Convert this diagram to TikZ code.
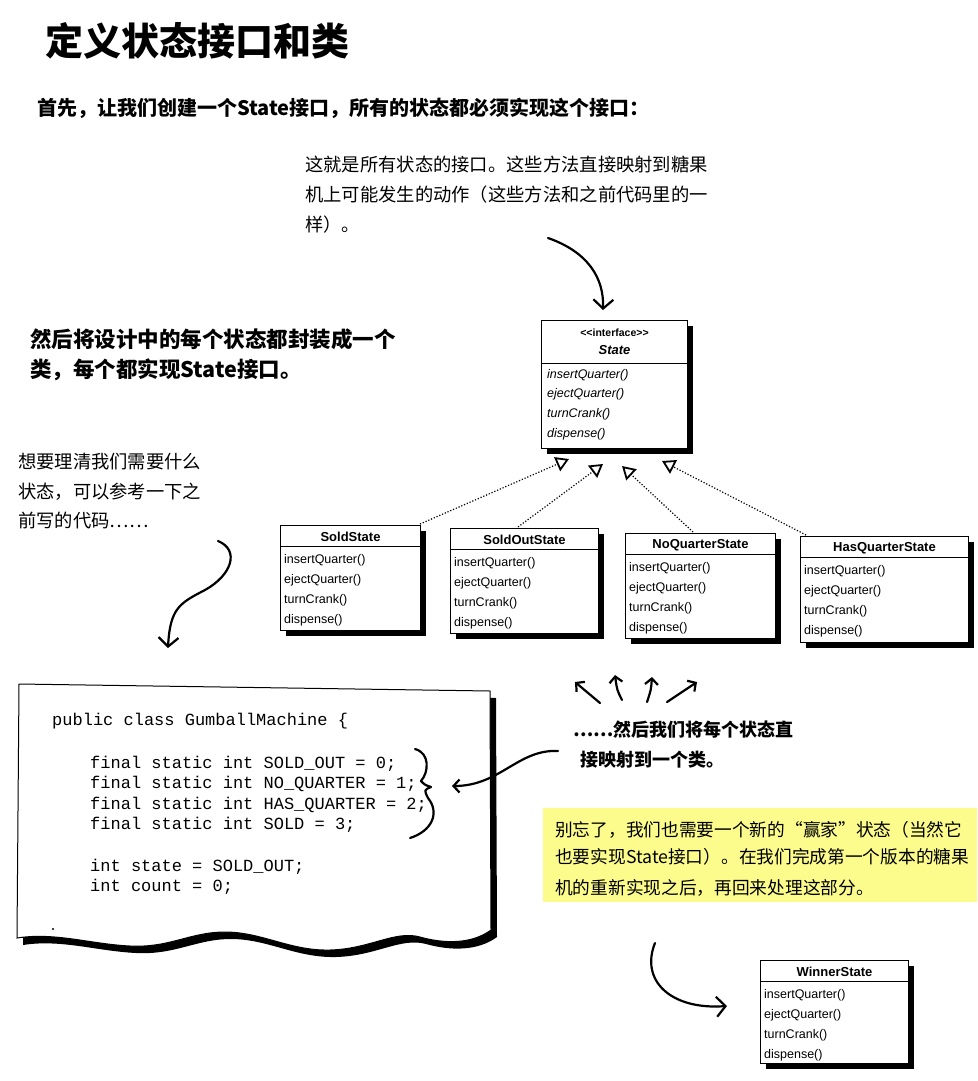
\documentclass[tikz,border=0pt]{standalone}
\usepackage{fontspec}
\setmainfont{Liberation Sans}
\newfontfamily\cjk{Noto Sans CJK SC}
\newfontfamily\codefont{Liberation Mono}
\usetikzlibrary{arrows.meta,calc,shadows}
\definecolor{notebg}{RGB}{252,252,140}

% UML class box: name, top-left corner, width, height, title, operations
\newcommand{\umlclass}[6]{%
  \node[classbox, minimum width=#3, minimum height=#4] (#1) at (#2) {};
  \node[classtitle] (#1-title) at ($(#1.north)+(0,12)$) {#5};
  \draw[classrule] ($(#1.north west)+(0,21)$) -- ($(#1.north east)+(0,21)$);
  \foreach \op [count=\k] in {#6}
    \node[classop] (#1-op\k) at ($(#1.north west)+(4,{18.5+20*\k})$) {\op};
}

% outline of the torn code sheet
\newcommand{\paperoutline}{%
  (19,684) -- (490,691) -- (491,930)
  .. controls (472,944) and (445,944) .. (420,937)
  .. controls (395,930) and (370,949) .. (330,950)
  .. controls (290,951) and (262,932) .. (225,932)
  .. controls (190,932) and (170,948) .. (130,946)
  .. controls (90,944) and (55,932) .. (17,938) -- cycle}

\begin{document}
\begin{tikzpicture}[x=1pt,y=-1pt,
  titletext/.style={font=\cjk\bfseries\fontsize{38}{38}\selectfont, inner sep=0pt, anchor=base west},
  leadtext/.style={font=\cjk\bfseries\fontsize{20}{20}\selectfont, inner sep=0pt, anchor=base west},
  note/.style={font=\cjk\fontsize{18.3}{18.3}\selectfont, inner sep=0pt, anchor=base west},
  boldnote/.style={font=\cjk\bfseries\fontsize{21.5}{21.5}\selectfont, inner sep=0pt, anchor=base west},
  mapnote/.style={font=\cjk\bfseries\fontsize{18}{18}\selectfont, inner sep=0pt, anchor=base west},
  codeline/.style={font=\codefont\fontsize{17}{17}\selectfont, inner sep=0pt, anchor=base west},
  classbox/.style={draw, line width=1pt, fill=white, anchor=north west, inner sep=0pt,
    drop shadow={shadow xshift=5pt, shadow yshift=-5pt, fill=black, opacity=1}},
  classtitle/.style={font=\bfseries\fontsize{13}{13}\selectfont, inner sep=0pt},
  classop/.style={font=\fontsize{12.5}{12.5}\selectfont, inner sep=0pt, anchor=base west},
  classrule/.style={line width=0.8pt},
  realize/.style={line width=1.2pt, dash pattern=on 1.2pt off 1.8pt,
    -{Triangle[open, length=13pt, width=15pt, line width=1.8pt]}},
  hand/.style={line width=2.2pt, line cap=round, line join=round},
  barb/.style={-{Straight Barb[length=9pt, width=20pt, line width=2.2pt]}},
  smallbarb/.style={-{Straight Barb[length=6pt, width=13pt, line width=2.2pt]}},
  codepaper/.style={fill=white, draw=black, line width=1pt}
]
\fill[white] (0,0) rectangle (977,1081);
\useasboundingbox (0,0) rectangle (977,1081);

% headings
\node[titletext] (title) at (45,56) {定义状态接口和类};
\node[leadtext] (lead) at (37,115) {首先，让我们创建一个State接口，所有的状态都必须实现这个接口：};

% note on the interface
\node[note] (ifnote1) at (305,171) {这就是所有状态的接口。这些方法直接映射到糖果};
\node[note] (ifnote2) at (305,201) {机上可能发生的动作（这些方法和之前代码里的一};
\node[note] (ifnote3) at (305,231) {样）。};
\coordinate (ifarrowstart) at (548,238);
\coordinate (ifarrowtip) at (603,310);
\draw[hand, barb] (ifarrowstart) .. controls (588,252) and (604,278) .. (ifarrowtip);

% note on the classes
\node[boldnote] (clsnote1) at (30,347) {然后将设计中的每个状态都封装成一个};
\node[boldnote] (clsnote2) at (30,377) {类，每个都实现State接口。};

% note on the old code
\node[note] (oldnote1) at (18,468) {想要理清我们需要什么};
\node[note] (oldnote2) at (18,498) {状态，可以参考一下之};
\node[note] (oldnote3) at (18,527) {前写的代码……};
\coordinate (oldarrowstart) at (218,541);
\coordinate (oldarrowtip) at (168,648);
\draw[hand, barb] (oldarrowstart) .. controls (240,550) and (232,575) .. (205,590)
  .. controls (180,603) and (170,608) .. (oldarrowtip);

% the State interface
\node[classbox, minimum width=146, minimum height=128] (iface) at (541,320) {};
\node[classtitle, font=\bfseries\fontsize{10.5}{10.5}\selectfont] (iface-stereo) at ($(iface.north)+(0,13)$) {{<}{<}interface{>}{>}};
\node[classtitle, font=\bfseries\itshape\fontsize{13}{13}\selectfont] (iface-title) at ($(iface.north)+(0,30)$) {State};
\draw[classrule] ($(iface.north west)+(0,43)$) -- ($(iface.north east)+(0,43)$);
\foreach \op [count=\k] in {insertQuarter(),ejectQuarter(),turnCrank(),dispense()}
  \node[classop, font=\itshape\fontsize{12.5}{12.5}\selectfont] (iface-op\k) at ($(iface.north west)+(6,{38.5+19.7*\k})$) {\op};

% concrete state classes
\umlclass{sold}{280,525}{140}{105}{SoldState}{insertQuarter(),ejectQuarter(),turnCrank(),dispense()}
\umlclass{soldout}{450,528}{148}{105}{SoldOutState}{insertQuarter(),ejectQuarter(),turnCrank(),dispense()}
\umlclass{noquarter}{625,533}{150}{105}{NoQuarterState}{insertQuarter(),ejectQuarter(),turnCrank(),dispense()}
\umlclass{hasquarter}{800,536}{168}{106}{HasQuarterState}{insertQuarter(),ejectQuarter(),turnCrank(),dispense()}

% realization links to the interface
\coordinate (tip1) at (569,459);
\coordinate (tip2) at (603,464);
\coordinate (tip3) at (622,466);
\coordinate (tip4) at (662,461);
\draw[realize] ($(sold.north east)+(-1,-1)$) -- (tip1);
\draw[realize] ($(soldout.north west)+(68,-1)$) -- (tip2);
\draw[realize] ($(noquarter.north west)+(68,-1)$) -- (tip3);
\draw[realize] ($(hasquarter.north west)+(6,-1)$) -- (tip4);

% old code sheet
\fill[black, shift={(6,7)}] \paperoutline;
\draw[codepaper] \paperoutline;
\node[codeline] (code1) at (52,725) {public class GumballMachine \{};
\node[codeline] (code2) at (90,768) {final static int SOLD\_OUT = 0;};
\node[codeline] (code3) at (90,788.5) {final static int NO\_QUARTER = 1;};
\node[codeline] (code4) at (90,809) {final static int HAS\_QUARTER = 2;};
\node[codeline] (code5) at (90,829.5) {final static int SOLD = 3;};
\node[codeline] (code6) at (90,871) {int state = SOLD\_OUT;};
\node[codeline] (code7) at (90,891) {int count = 0;};
\fill (53,929) circle (1.2);

% brace over the constants
\draw[hand] (415,749) .. controls (430,753) and (429,772) .. (421,781)
  .. controls (425,785) .. (431,787)
  .. controls (424,790) .. (428,798)
  .. controls (440,813) and (432,831) .. (410,838);

% the classes point back at the constants
\draw[hand, smallbarb] (600,703) -- (575,682);
\draw[hand, smallbarb] (622,700) .. controls (617,690) .. (615,675);
\draw[hand, smallbarb] (647,702) .. controls (651,690) .. (652,677);
\draw[hand, smallbarb] (667,702) -- (697,682);
\node[mapnote] (mapnote1) at (573,736) {……然后我们将每个状态直};
\node[mapnote] (mapnote2) at (580,766) {接映射到一个类。};
\coordinate (maparrowstart) at (558,751);
\coordinate (maparrowtip) at (452,786);
\draw[hand, smallbarb] (maparrowstart) .. controls (518,749) and (500,786) .. (maparrowtip);

% reminder about the winner state
\node[fill=notebg, minimum width=434, minimum height=94, anchor=north west, inner sep=0pt] (winnote) at (543,808) {};
\node[note, font=\cjk\fontsize{17.7}{17.7}\selectfont] (winnote1) at (555,836) {别忘了，我们也需要一个新的“赢家”状态（当然它};
\node[note, font=\cjk\fontsize{17.7}{17.7}\selectfont] (winnote2) at (555,863) {也要实现State接口）。在我们完成第一个版本的糖果};
\node[note, font=\cjk\fontsize{17.7}{17.7}\selectfont] (winnote3) at (555,894) {机的重新实现之后，再回来处理这部分。};

\umlclass{winner}{760,960}{148}{103}{WinnerState}{insertQuarter(),ejectQuarter(),turnCrank(),dispense()}
\coordinate (winarrowstart) at (655,943);
\coordinate (winarrowtip) at (727,1006);
\draw[hand, barb] (winarrowstart) .. controls (640,980) and (670,1010) .. (winarrowtip);

\end{tikzpicture}
\end{document}
